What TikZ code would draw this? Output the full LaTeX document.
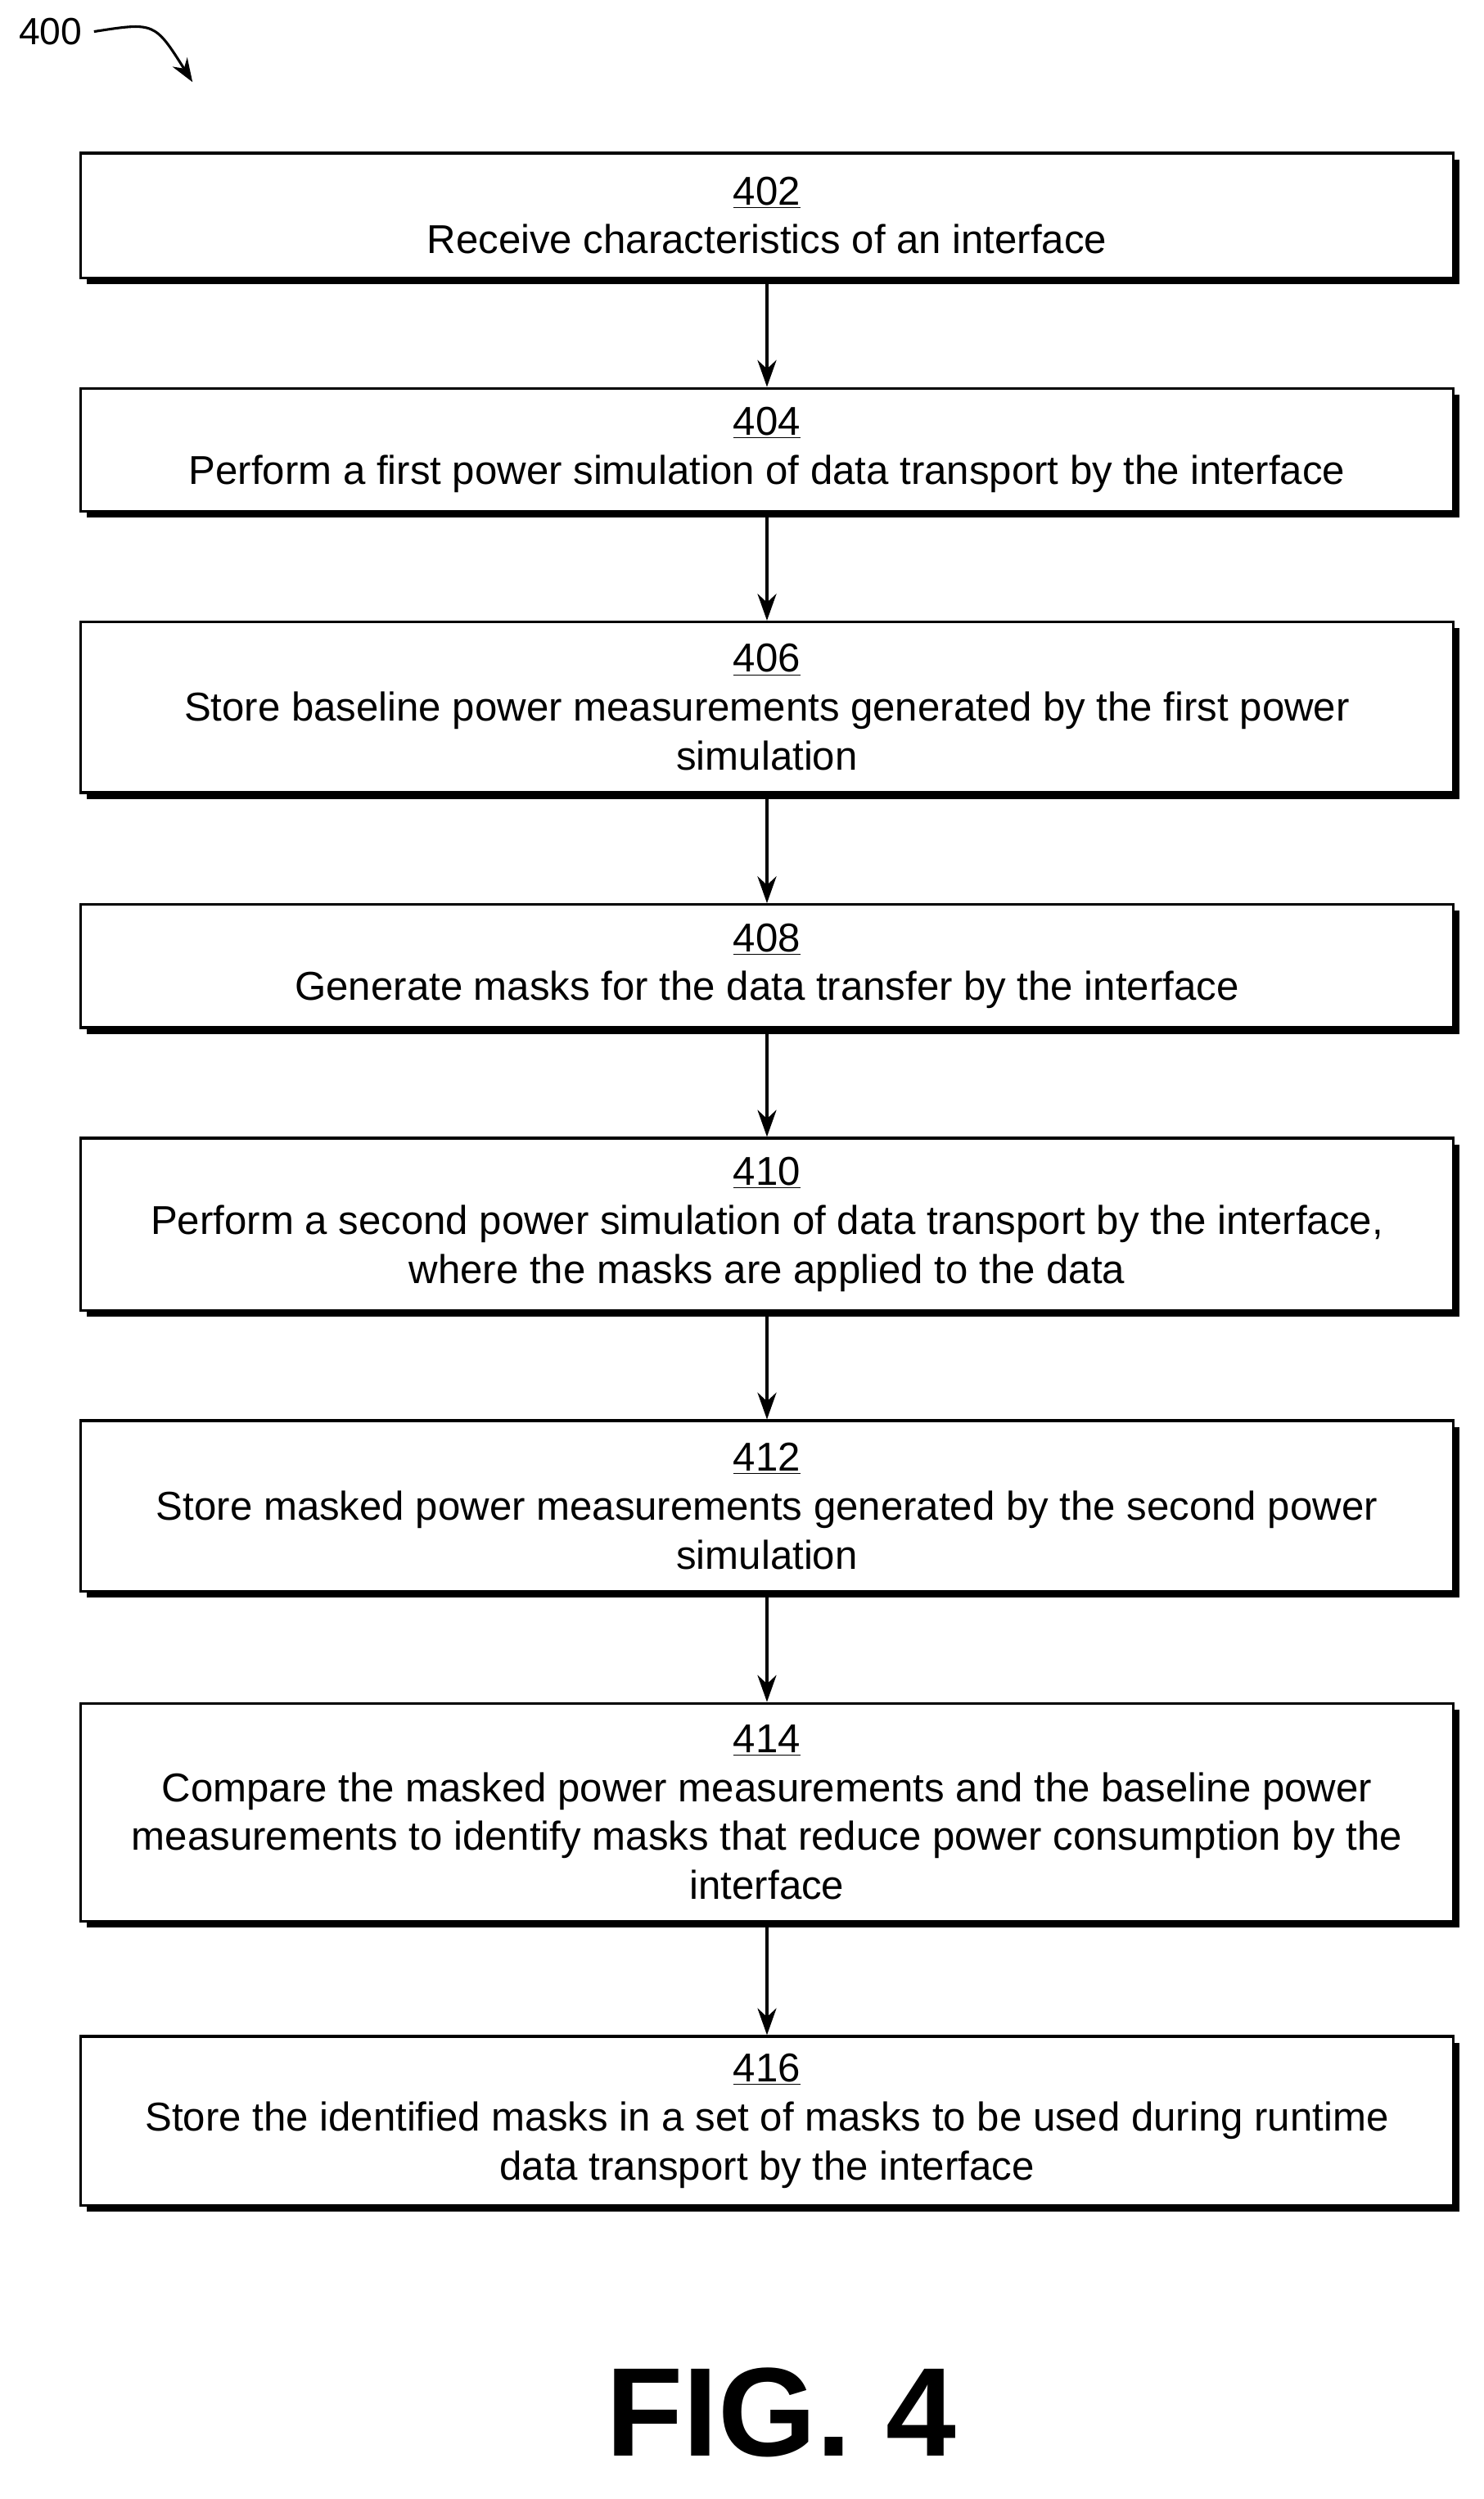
\documentclass[tikz,border=0pt]{standalone}
\usepackage{fontspec}
\setmainfont{Liberation Sans}
\usetikzlibrary{shadows,arrows.meta}
\begin{document}
\begin{tikzpicture}[x=1pt,y=1pt,
 box/.style={draw=black,line width=1.8pt,fill=white,minimum width=870pt,align=center,inner sep=0pt,
   font=\fontsize{25.5pt}{31pt}\selectfont,
   drop shadow={shadow xshift=4pt,shadow yshift=-4pt,fill=black,opacity=1}},
 arr/.style={-{Stealth[length=17pt,width=12pt]},line width=1.8pt}]
\useasboundingbox (0,0) rectangle (940,-1583);
\node[box,minimum height=79pt] (b402) at (486,-136.5) {\underline{402}\\Receive characteristics of an interface};
\node[box,minimum height=78pt] (b404) at (486,-285) {\underline{404}\\Perform a first power simulation of data transport by the interface};
\node[box,minimum height=108pt] (b406) at (486,-448) {\underline{406}\\Store baseline power measurements generated by the first power\\simulation};
\node[box,minimum height=78pt] (b408) at (486,-612) {\underline{408}\\Generate masks for the data transfer by the interface};
\node[box,minimum height=109pt] (b410) at (486,-775.5) {\underline{410}\\Perform a second power simulation of data transport by the interface,\\where the masks are applied to the data};
\node[box,minimum height=108pt] (b412) at (486,-954) {\underline{412}\\Store masked power measurements generated by the second power\\simulation};
\node[box,minimum height=138pt] (b414) at (486,-1148) {\underline{414}\\Compare the masked power measurements and the baseline power\\measurements to identify masks that reduce power consumption by the\\interface};
\node[box,minimum height=107pt] (b416) at (486,-1343.5) {\underline{416}\\Store the identified masks in a set of masks to be used during runtime\\data transport by the interface};
\foreach \a/\b in {b402/b404,b404/b406,b406/b408,b408/b410,b410/b412,b412/b414,b414/b416}
  \draw[arr] (\a.south) -- (\b.north);
\node[font=\fontsize{24pt}{26pt}\selectfont] (lbl) at (32,-20) {400};
\coordinate (tip) at (122,-52);
\draw[-{Stealth[length=15pt,width=11pt]},line width=1.6pt] (lbl.east)+(4,0) .. controls (98,-14) .. (tip);
\node[font=\fontsize{80pt}{84pt}\selectfont\bfseries] (fig) at (495,-1528) {FIG. 4};
\end{tikzpicture}
\end{document}
